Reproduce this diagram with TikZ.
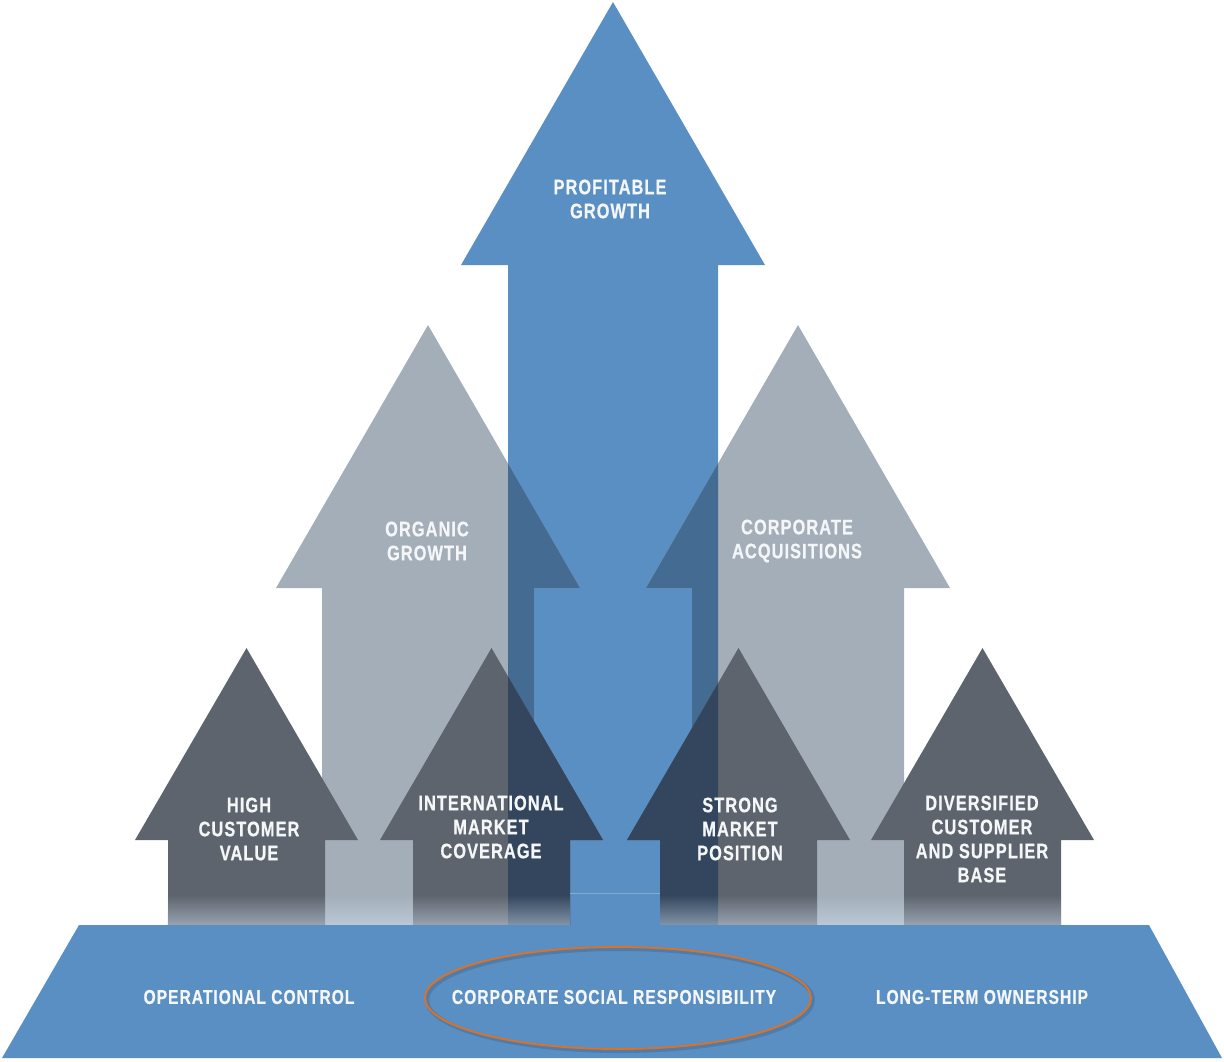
\documentclass[tikz,border=0pt]{standalone}
\usepackage{fontspec}
\newfontfamily\labelfont{Liberation Sans}[FakeStretch=0.78,LetterSpace=5,BoldFeatures={FakeBold=0.6}]
\usetikzlibrary{fadings}

\definecolor{pgblue}{HTML}{5A8FC3}
\definecolor{pggray}{HTML}{A3AEB9}
\definecolor{pgdark}{HTML}{5D646D}
\definecolor{pgsteel}{HTML}{446B91}
\definecolor{pgnavy}{HTML}{33465E}
\definecolor{pgfade}{HTML}{D4E3F2}
\definecolor{pgorange}{HTML}{E2711F}
\definecolor{labelwhite}{HTML}{F4F6F8}

% Up-pointing block arrow: centre x, tip y, head-base y, head half-width, shaft half-width, bottom y
\newcommand\ArrShape[6]{(#1,#2) -- ({#1+#4},#3) -- ({#1+#5},#3) -- ({#1+#5},#6) -- ({#1-#5},#6) -- ({#1-#5},#3) -- ({#1-#4},#3) -- cycle}
\newcommand\BigArrow[1]{\ArrShape{#1}{2}{265}{152}{105}{925}}
\newcommand\MidArrow[1]{\ArrShape{#1}{325}{588}{152}{106}{925}}
\newcommand\SmallArrow[1]{\ArrShape{#1}{648}{840}{111.5}{78.5}{925}}

\begin{document}
\begin{tikzpicture}[x=1pt,y=-1pt,
  lbl/.style={font=\labelfont\bfseries\fontsize{21}{24}\selectfont, text=labelwhite, align=center, inner sep=0pt},
  baselbl/.style={lbl, font=\labelfont\bfseries\fontsize{20}{24}\selectfont}]
\useasboundingbox (0,0) rectangle (1224,1061);

% central arrow
\fill[pgblue] \BigArrow{613};

% middle arrows
\fill[pggray] \MidArrow{428};
\fill[pggray] \MidArrow{798};
\begin{scope}
  \clip \BigArrow{613};
  \fill[pgsteel] \MidArrow{428};
  \fill[pgsteel] \MidArrow{798};
\end{scope}

% small arrows
\foreach \cx in {246.5,491.5,738.5,982.5}{
  \fill[pgdark] \SmallArrow{\cx};
}
\begin{scope}
  \clip \BigArrow{613};
  \foreach \cx in {491.5,738.5}{
    \fill[pgnavy] \SmallArrow{\cx};
  }
\end{scope}

% soft light at the foot of the shafts
\fill[pgfade, fill opacity=0.5, path fading=north] (167.5,895) rectangle (570,925);
\fill[pgfade, fill opacity=0.5, path fading=north] (660,895) rectangle (1061,925);
\draw[pgblue!75!white, line width=1] (570,893) -- (660,893);

% foundation
\fill[pgblue] (79,925) -- (1149,925) -- (1222,1058) -- (2,1058) -- cycle;

% highlight ring
\draw[black, opacity=0.12, line width=4] (620,1000) ellipse [x radius=193, y radius=51];
\draw[pgorange, line width=1.8] (618,998) ellipse [x radius=193, y radius=51];

% labels
\node[lbl] (pg) at (610,199) {PROFITABLE\\GROWTH};
\node[lbl] (og) at (427,541) {ORGANIC\\GROWTH};
\node[lbl] (ca) at (797,541) {CORPORATE\\ACQUISITIONS};
\node[lbl] (hcv) at (249,829) {HIGH\\CUSTOMER\\VALUE};
\node[lbl] (imc) at (491,827) {INTERNATIONAL\\MARKET\\COVERAGE};
\node[lbl] (smp) at (740,829) {STRONG\\MARKET\\POSITION};
\node[lbl] (dcsb) at (982,839) {DIVERSIFIED\\CUSTOMER\\AND SUPPLIER\\BASE};

\node[baselbl] (oc) at (249,997) {OPERATIONAL CONTROL};
\node[baselbl] (csr) at (614,997) {CORPORATE SOCIAL RESPONSIBILITY};
\node[baselbl] (lto) at (982,997) {LONG-TERM OWNERSHIP};
\end{tikzpicture}
\end{document}
